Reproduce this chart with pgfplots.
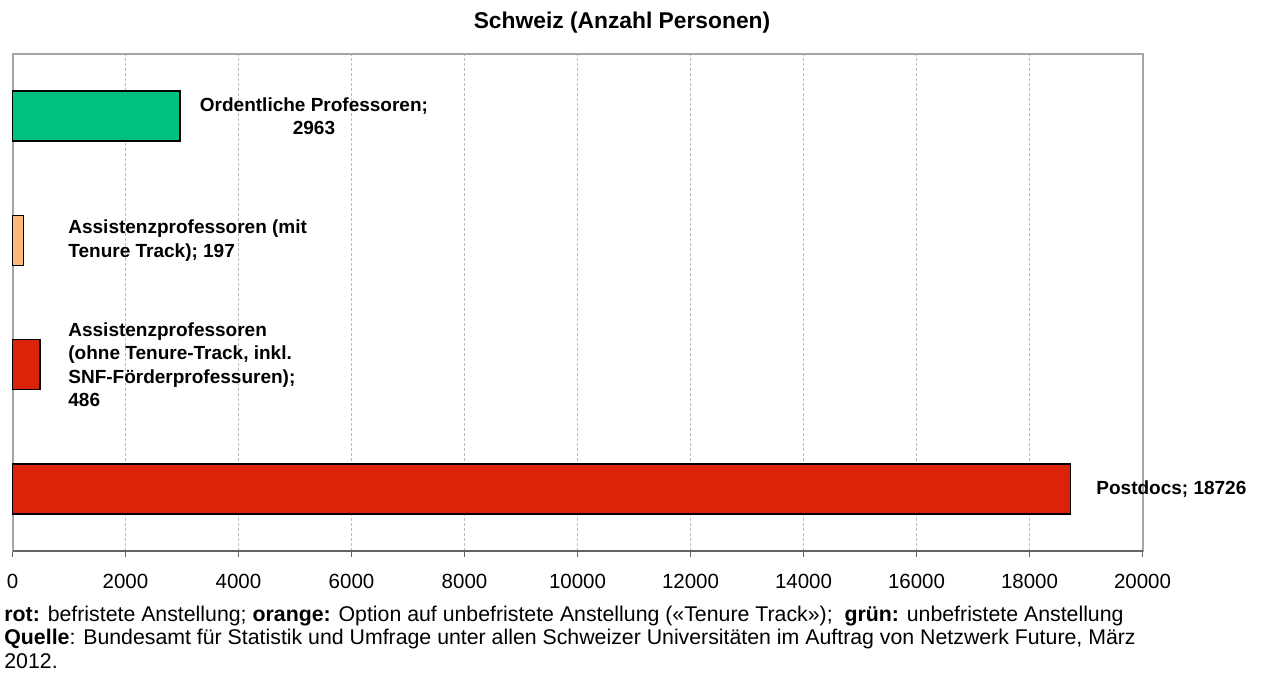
\documentclass[border=0pt]{standalone}
\usepackage{pgfplots}
\pgfplotsset{compat=1.18}
\usepackage{fontspec}
\setmainfont{Liberation Sans}
\definecolor{cgreen}{RGB}{0,193,128}
\definecolor{corange}{RGB}{255,184,119}
\definecolor{cred}{RGB}{218,35,8}
\definecolor{cframe}{RGB}{165,165,165}
\definecolor{cgrid}{RGB}{185,185,185}
\definecolor{caxis}{RGB}{100,100,100}
\begin{document}
\begin{tikzpicture}
\begin{axis}[
  at={(0,0)}, anchor=south west,
  scale only axis, width=565pt, height=248.5pt,
  xbar, bar shift=0pt, bar width=25pt,
  xmin=0, xmax=20000, ymin=-0.5, ymax=3.5,
  xtick={0,2000,...,20000}, ytick=\empty,
  scaled x ticks=false,
  /pgf/number format/1000 sep={},
  /pgf/number format/assume math mode=true,
  xticklabel style={font=\fontsize{10.25}{12}\selectfont, yshift=-5pt},
  tick align=outside, xtick pos=left, major tick length=3pt,
  tick style={caxis, line width=0.6pt},
  xmajorgrids, grid style={cgrid, dash pattern=on 1.5pt off 1pt, line width=0.5pt},
  axis line style={cframe, line width=1pt},
  clip=false,
]
\addplot[fill=cgreen, draw=black, line width=0.75pt] coordinates {(2963,3)};
\addplot[fill=corange, draw=black, line width=0.75pt] coordinates {(197,2)};
\addplot[fill=cred, draw=black, line width=0.75pt] coordinates {(486,1)};
\addplot[fill=cred, draw=black, line width=0.75pt] coordinates {(18726,0)};
\draw[caxis, line width=1pt] (rel axis cs:0,0) -- (rel axis cs:1,0);
\node[font=\bfseries\fontsize{9.5}{11.75}\selectfont, align=center, inner sep=0pt, anchor=center] at (axis cs:5336,3) {Ordentliche Professoren;\\2963};
\node[font=\bfseries\fontsize{9.5}{11.75}\selectfont, align=left, inner sep=0pt, anchor=west] at (axis cs:982,2) {Assistenzprofessoren (mit\\Tenure Track); 197};
\node[font=\bfseries\fontsize{9.5}{11.75}\selectfont, align=left, inner sep=0pt, anchor=west] at (axis cs:982,1) {Assistenzprofessoren\\(ohne Tenure-Track, inkl.\\SNF-Förderprofessuren);\\486};
\node[font=\bfseries\fontsize{9.5}{11.75}\selectfont, align=left, inner sep=0pt, anchor=west] at (axis cs:19177,0) {Postdocs; 18726};
\end{axis}
\node[font=\bfseries\fontsize{11.4}{13}\selectfont, anchor=base, inner sep=0pt] at (304.75pt,261pt) {Schweiz (Anzahl Personen)};
\node[font=\fontsize{10.65}{11.75}\selectfont, anchor=base west, inner sep=0pt, align=left] at (-4.25pt,-58.5pt) {\textbf{rot:} befristete Anstellung; \textbf{orange:} Option auf unbefristete Anstellung («Tenure Track»);\ \ \textbf{grün:} unbefristete Anstellung\\\textbf{Quelle}: Bundesamt für Statistik und Umfrage unter allen Schweizer Universitäten im Auftrag von Netzwerk Future, März\\2012.};
\pgfresetboundingbox
\path[use as bounding box] (-6.25pt,-61pt) rectangle (624.25pt,275.5pt);
\end{tikzpicture}
\end{document}
